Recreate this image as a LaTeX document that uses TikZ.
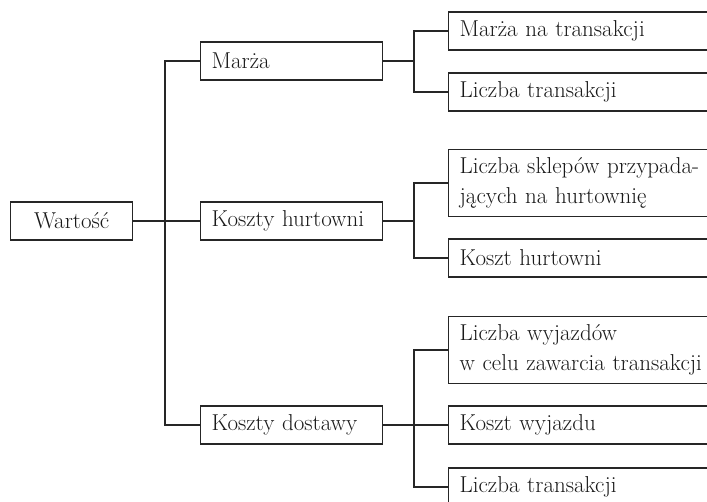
\documentclass[tikz,border=0pt]{standalone}
\usepackage{fontspec}
\usepackage{tikz}
\usetikzlibrary{positioning}

\begin{document}
\begin{tikzpicture}[x=1pt, y=-1pt,
    box/.style={draw=black!85, line width=1.2pt, minimum height=38pt, inner xsep=11pt, inner ysep=8pt,
                font=\fontsize{23}{30}\selectfont, text=black!90},
    lvlone/.style={box, anchor=west, text width=160pt, align=left},
    lvltwo/.style={box, anchor=west, text width=300pt, align=left},
    conn/.style={draw=black!85, line width=1.2pt}
]
\useasboundingbox (0,0) rectangle (707,502);
\node[box, anchor=west, minimum width=122pt] (wart) at (10,221) {Wartość};
\node[lvlone] (mar) at (200,61) {Marża};
\node[lvlone] (kh) at (200,221) {Koszty hurtowni};
\node[lvlone] (kd) at (200,425) {Koszty dostawy};
\node[lvltwo] (mnt) at (448,31) {Marża na transakcji};
\node[lvltwo] (lta) at (448,92) {Liczba transakcji};
\node[lvltwo] (lsp) at (448,183) {Liczba sklepów przypada-\\jących na hurtownię};
\node[lvltwo] (khu) at (448,258) {Koszt hurtowni};
\node[lvltwo] (lwy) at (448,350) {Liczba wyjazdów\\w celu zawarcia transakcji};
\node[lvltwo] (kwy) at (448,425) {Koszt wyjazdu};
\node[lvltwo] (ltb) at (448,487) {Liczba transakcji};
% first level
\draw[conn] (wart.east) -- (kh.west);
\draw[conn] (mar.west) -- ++(-35,0) |- (kd.west);
% second level
\draw[conn] (mar.east) -- ++(32,0);
\draw[conn] (mnt.west) -- ++(-34,0) |- (lta.west);
\draw[conn] (kh.east) -- ++(32,0);
\draw[conn] (lsp.west) -- ++(-34,0) |- (khu.west);
\draw[conn] (kd.east) -- (kwy.west);
\draw[conn] (lwy.west) -- ++(-34,0) |- (ltb.west);
\end{tikzpicture}
\end{document}
